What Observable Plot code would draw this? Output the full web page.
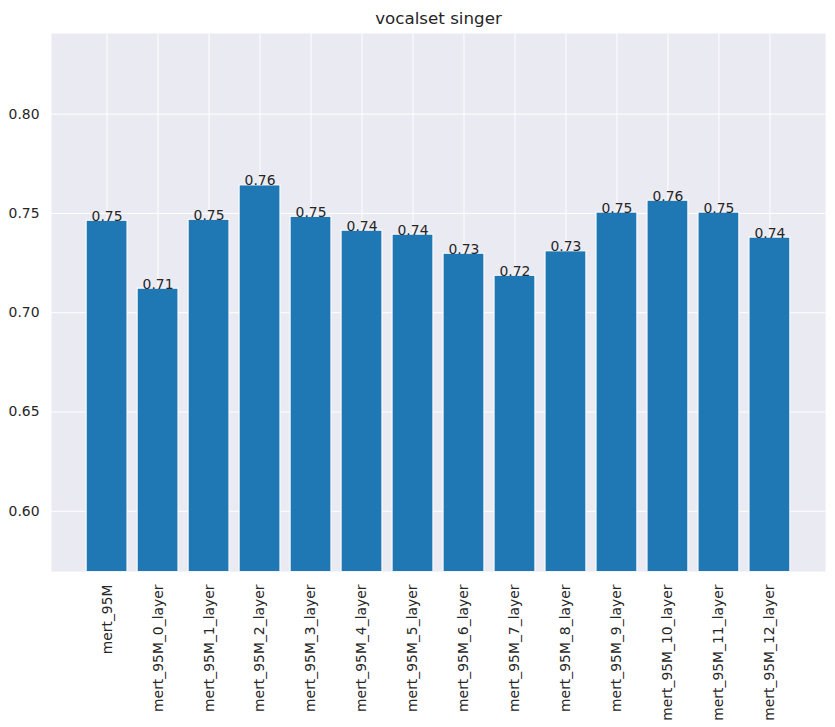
<!DOCTYPE html>
<html>
<head>
<meta charset="utf-8">
<script src="https://cdn.jsdelivr.net/npm/d3@7"></script>
<script src="https://cdn.jsdelivr.net/npm/@observablehq/plot@0.6"></script>
<style>
  html, body { margin: 0; padding: 0; background: #ffffff; }
  #chart svg { display: block; }
</style>
</head>
<body>
<div id="chart"></div>
<script>
const models = ["mert_95M", "mert_95M_0_layer", "mert_95M_1_layer", "mert_95M_2_layer", "mert_95M_3_layer", "mert_95M_4_layer", "mert_95M_5_layer", "mert_95M_6_layer", "mert_95M_7_layer", "mert_95M_8_layer", "mert_95M_9_layer", "mert_95M_10_layer", "mert_95M_11_layer", "mert_95M_12_layer"];
const scores = [0.7463, 0.7121, 0.7468, 0.7641, 0.7483, 0.7413, 0.7393, 0.7297, 0.7186, 0.7309, 0.7504, 0.7564, 0.7504, 0.7378];
const yTicks = [0.60, 0.65, 0.70, 0.75, 0.80];
const yDomain = [0.5697, 0.8406];
const title = "vocalset singer";

const data = models.map((m, i) => ({model: m, score: scores[i]}));

const chart = Plot.plot({
  width: 835,
  height: 727,
  marginLeft: 51,
  marginRight: 10,
  marginTop: 33,
  marginBottom: 156,
  style: {fontFamily: "DejaVu Sans, sans-serif", fontSize: "13.9px", color: "#262626", background: "#ffffff"},
  x: {type: "band", domain: models, paddingInner: 0.2, paddingOuter: 0.69, align: 0.5, round: false, label: null},
  y: {domain: yDomain, ticks: yTicks, tickFormat: ".2f", label: null},
  marks: [
    Plot.frame({fill: "#EAEAF2", stroke: null}),
    Plot.gridX({stroke: "#ffffff", strokeOpacity: 1, strokeWidth: 1}),
    Plot.gridY(yTicks, {stroke: "#ffffff", strokeOpacity: 1, strokeWidth: 1}),
    Plot.barY(data, {x: "model", y: "score", fill: "#1f77b4", stroke: "#ffffff", strokeWidth: 1, clip: true}),
    Plot.text(data, {x: "model", y: "score", text: d => d.score.toFixed(2), lineAnchor: "bottom", textAnchor: "middle", fill: "#262626", fontSize: 13.9}),
    Plot.axisY(yTicks, {tickSize: 0, tickPadding: 12, tickFormat: ".2f", fontSize: 13.9, fill: "#262626", label: null}),
    Plot.axisX({tickSize: 0, tickPadding: 13, tickRotate: -90, fontSize: 13.9, fill: "#262626", label: null}),
    Plot.text([title], {frameAnchor: "top", text: d => d, dy: -15, lineAnchor: "middle", fontSize: 16.7, fill: "#262626"})
  ]
});
document.getElementById("chart").appendChild(chart);
</script>
</body>
</html>
